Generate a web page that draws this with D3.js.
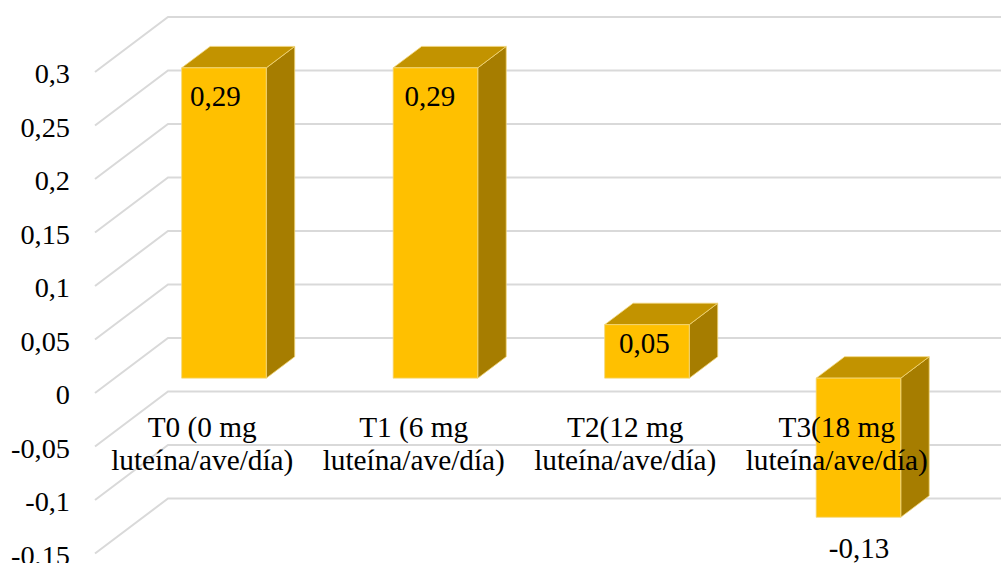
<!DOCTYPE html>
<html>
<head>
<meta charset="utf-8">
<script src="https://cdn.jsdelivr.net/npm/d3@7"></script>
<style>
  html, body { margin: 0; padding: 0; background: #ffffff; }
  svg { display: block; }
</style>
</head>
<body>
<svg id="chart" width="1001" height="563"></svg>
<script>
// Data
const categories = [
  ["T0 (0 mg", "luteína/ave/día)"],
  ["T1 (6 mg", "luteína/ave/día)"],
  ["T2(12 mg", "luteína/ave/día)"],
  ["T3(18 mg", "luteína/ave/día)"]
];
const values = [0.29, 0.29, 0.05, -0.13];
const valueLabels = ["0,29", "0,29", "0,05", "-0,13"];
const tickValues = [0.3, 0.25, 0.2, 0.15, 0.1, 0.05, 0, -0.05, -0.1, -0.15];
const tickLabels = ["0,3", "0,25", "0,2", "0,15", "0,1", "0,05", "0", "-0,05", "-0,1", "-0,15"];

const FONT = "'Liberation Serif', Tinos, 'Times New Roman', 'DejaVu Serif', serif";
const svg = d3.select("#chart");

// Oblique projection: depth z in [0,1] shifts right and up
const DX = 73, DY = 55;
const wallLeft = 95, wallRight = 1080;

const keys = categories.map((c, i) => "c" + i);
const x = d3.scaleBand().domain(keys).range([98.5, 944.5]).paddingInner(0).paddingOuter(0);
const y = d3.scaleLinear().domain([-0.15, 0.3]).range([553.5, 72]);

function P(xf, v, z) { return [xf + z * DX, y(v) - z * DY]; }

// Gridlines: diagonal on the side wall, horizontal on the back wall
const grid = svg.append("g").attr("stroke", "#d9d9d9").attr("stroke-width", 2).attr("fill", "none");
tickValues.forEach(t => {
  const a = P(wallLeft, t, 0), b = P(wallLeft, t, 1);
  grid.append("path").attr("d", d3.line()([a, b, [wallRight, b[1]]]));
});

// Bars
const z0 = 0.27, z1 = 0.66;
const barW = x.bandwidth() * 0.4;
const ddx = (z1 - z0) * DX, ddy = (z1 - z0) * DY;
const bars = svg.append("g");
const edge = "#f3d77c";

values.forEach((v, i) => {
  const cx = x(keys[i]) + x.bandwidth() / 2;
  const xl = cx - barW / 2 + z0 * DX;
  const xr = xl + barW;
  const yTop = y(Math.max(v, 0)) - z0 * DY;
  const yBot = y(Math.min(v, 0)) - z0 * DY;
  const g = bars.append("g").attr("stroke", edge).attr("stroke-width", 0.8).attr("stroke-linejoin", "round");
  // right side face
  g.append("path").attr("fill", "#a67d00")
    .attr("d", d3.line()([[xr, yTop], [xr + ddx, yTop - ddy], [xr + ddx, yBot - ddy], [xr, yBot]]) + "Z");
  // top face
  g.append("path").attr("fill", "#c29300")
    .attr("d", d3.line()([[xl, yTop], [xr, yTop], [xr + ddx, yTop - ddy], [xl + ddx, yTop - ddy]]) + "Z");
  // front face
  g.append("rect").attr("fill", "#ffc000")
    .attr("x", xl).attr("y", yTop).attr("width", barW).attr("height", yBot - yTop);
});

// Value labels
values.forEach((v, i) => {
  const cx = x(keys[i]) + x.bandwidth() / 2 + z0 * DX + (-8.5 + 3 * i);
  const yTop = y(Math.max(v, 0)) - z0 * DY;
  const yBot = y(Math.min(v, 0)) - z0 * DY;
  let yc;
  if (v >= 0) yc = yTop + Math.min(28, (yBot - yTop) * 0.34);
  else yc = yBot + 31;
  svg.append("text")
    .attr("font-family", FONT).attr("font-size", 29).attr("text-anchor", "middle").attr("fill", "#000")
    .attr("x", cx).attr("y", yc + 10).text(valueLabels[i]);
});

// Category labels (two lines each)
categories.forEach((lines, i) => {
  const cx = x(keys[i]) + x.bandwidth() / 2 - 2;
  lines.forEach((ln, k) => {
    svg.append("text")
      .attr("font-family", FONT).attr("font-size", 29.3).attr("text-anchor", "middle").attr("fill", "#000")
      .attr("x", cx).attr("y", 437 + k * 33).text(ln);
  });
});

// Value axis tick labels
tickValues.forEach((t, i) => {
  svg.append("text")
    .attr("font-family", FONT).attr("font-size", 28.3).attr("text-anchor", "end").attr("fill", "#000")
    .attr("x", 70).attr("y", y(t) + 11).text(tickLabels[i]);
});
</script>
</body>
</html>
